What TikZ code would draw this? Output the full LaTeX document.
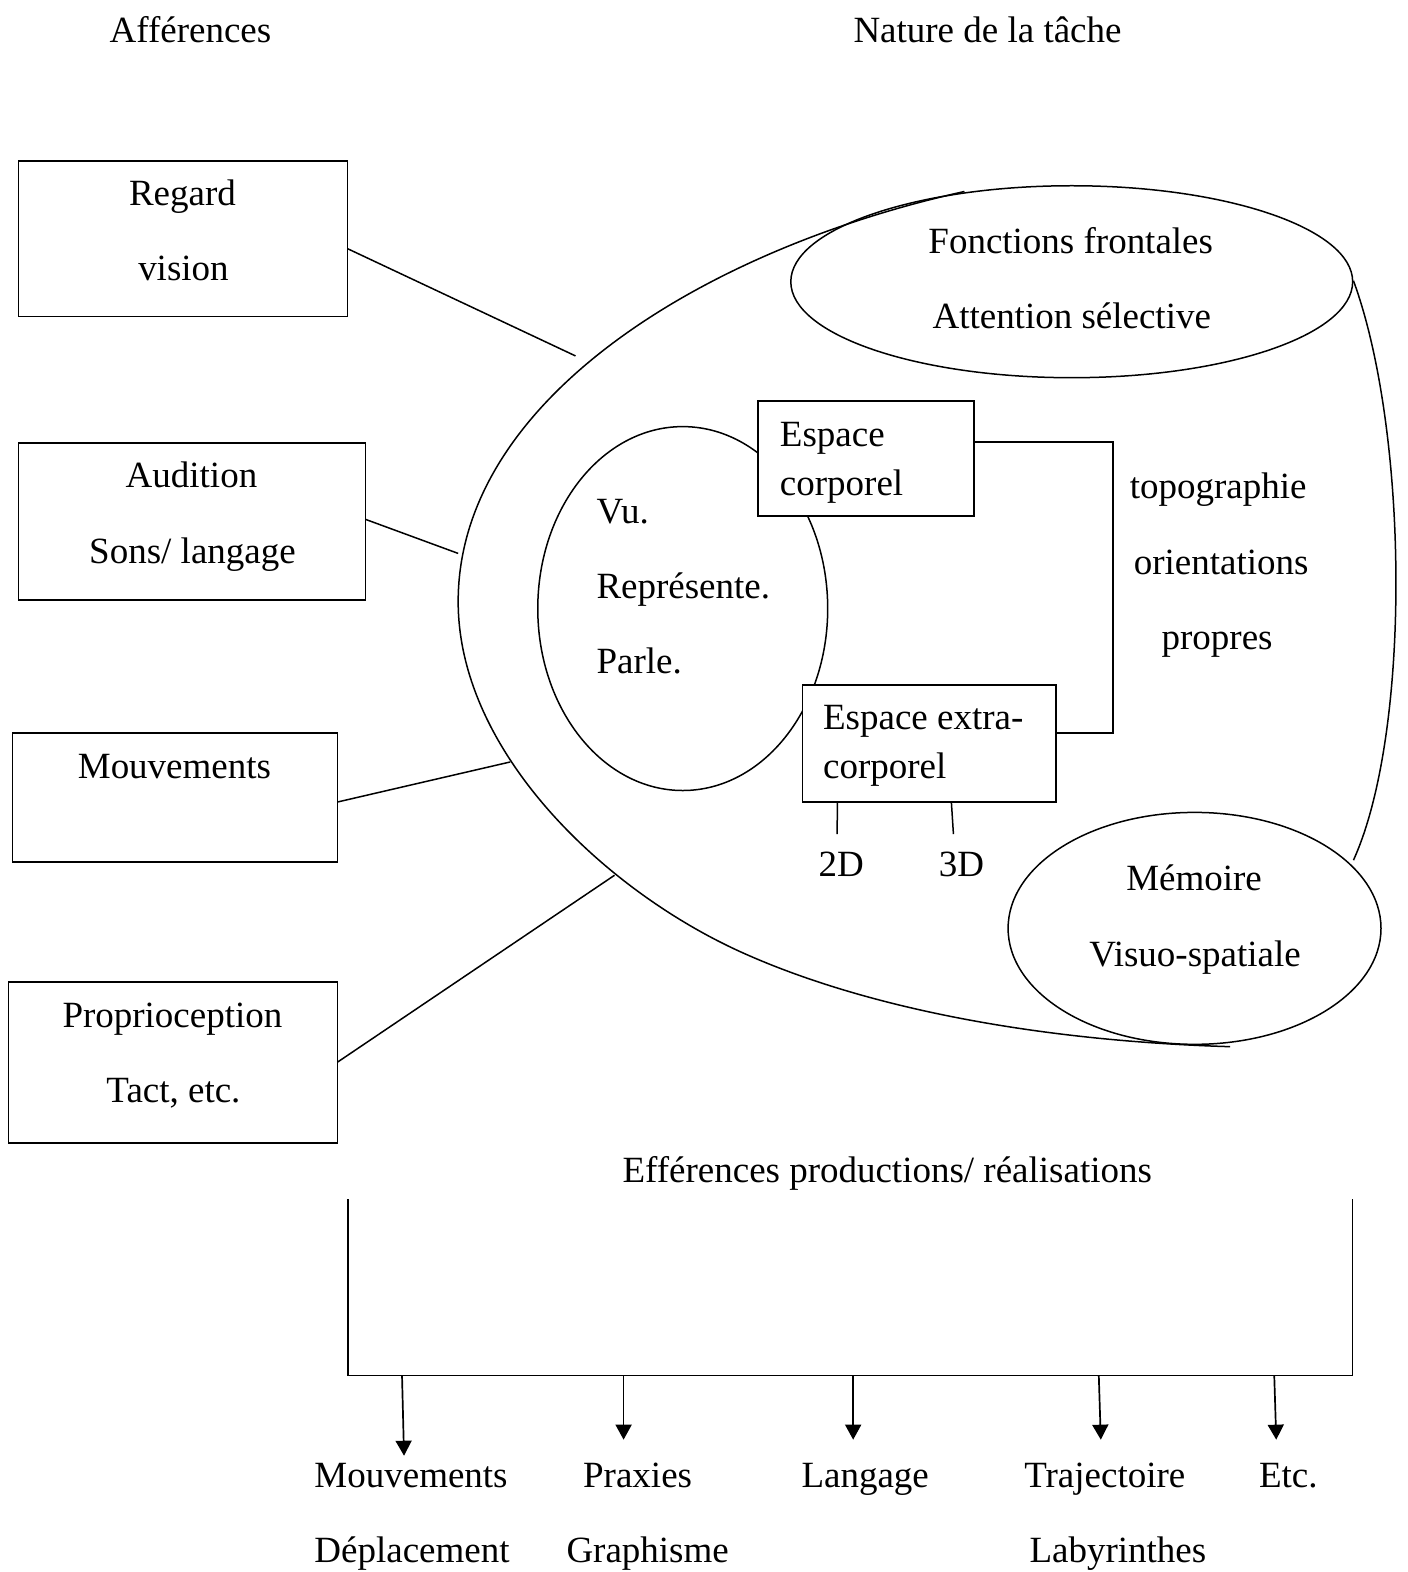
\documentclass[tikz,border=0pt]{standalone}
\usepackage{fontspec}
\setmainfont{Liberation Serif}
\usetikzlibrary{arrows.meta,shapes.geometric}
\begin{document}
\begin{tikzpicture}[x=1.0028pt,y=-1.0028pt,
  every node/.style={inner sep=0pt, outer sep=0pt},
  txt/.style={anchor=base, font=\fontsize{37}{44}\selectfont},
  txtl/.style={anchor=base west, font=\fontsize{37}{44}\selectfont},
  box/.style={draw, rectangle, fill=white, line width=1.8pt},
  oval/.style={draw, ellipse, line width=1.5pt},
  link/.style={line width=1.5pt},
  arr/.style={line width=1.7pt, -{Triangle[length=15pt,width=16pt]}}]

\path[use as bounding box] (0,0) rectangle (1404,1568);

% headings
\node[txt] (aff) at (190,42) {Afférences};
\node[txt] (nat) at (985,42) {Nature de la tâche};

% outer envelope of the task
\coordinate (envTop) at (962,191);
\coordinate (envLeft) at (457,600);
\coordinate (envLow) at (740,950);
\coordinate (envEnd) at (1227,1044);
\draw[link] (envTop) .. controls (700,249) and (457,400) .. (envLeft)
  .. controls (457,750) and (603.5,888.5) .. (envLow)
  .. controls (858.3,1003.3) and (1027,1038) .. (envEnd);

% right-hand arc joining the two ovals
\coordinate (arcTop) at (1350,280);
\coordinate (arcBot) at (1350,858);
\draw[link] (arcTop) .. controls (1405,430) and (1408,730) .. (arcBot);

% ovals
\node[oval, minimum width=562pt, minimum height=192pt] (front) at (1069,281) {};
\node[txt] (front1) at (1068,253) {Fonctions frontales};
\node[txt] (front2) at (1069,328) {Attention sélective};

\node[oval, minimum width=373pt, minimum height=232pt] (mem) at (1191.5,926) {};
\node[txt] (mem1) at (1191,888) {Mémoire};
\node[txt] (mem2) at (1192,964) {Visuo-spatiale};

\node[oval, minimum width=290pt, minimum height=364pt] (vu) at (681,607) {};
\node[txtl] (vu1) at (595,522) {Vu.};
\node[txtl] (vu2) at (595,597) {Représente.};
\node[txtl] (vu3) at (595,672) {Parle.};

% space boxes
\node[box, minimum width=216pt, minimum height=115pt] (corp) at (864,457.5) {};
\node[txtl] (corp1) at (778,445) {Espace};
\node[txtl] (corp2) at (778,494) {corporel};

\node[box, minimum width=254pt, minimum height=117pt] (extra) at (927,741.5) {};
\node[txtl] (extra1) at (821,728) {Espace extra-};
\node[txtl] (extra2) at (821,777) {corporel};

\coordinate (brk) at (1110,600);
\draw[link] ([yshift=16.5pt]corp.east) -| (brk) |- ([yshift=10.5pt]extra.east);

\node[txt] (topo1) at (1215,497) {topographie};
\node[txt] (topo2) at (1218,573) {orientations};
\node[txt] (topo3) at (1214,648) {propres};

% 2D / 3D
\node[txt] (d2) at (839,874) {2D};
\node[txt] (d3) at (959,874) {3D};
\coordinate (d2top) at (835,832);
\coordinate (d3top) at (951,832);
\draw[link] ([xshift=-92pt]extra.south) -- (d2top);
\draw[link] ([xshift=22pt]extra.south) -- (d3top);

% afferent boxes
\node[box, minimum width=329pt, minimum height=156pt] (regard) at (182.5,238) {};
\node[txt] (regard1) at (182,205) {Regard};
\node[txt] (regard2) at (183,280) {vision};

\node[box, minimum width=347pt, minimum height=157pt] (audi) at (191.5,520.5) {};
\node[txt] (audi1) at (191,486) {Audition};
\node[txt] (audi2) at (192,562) {Sons/ langage};

\node[box, minimum width=325pt, minimum height=129pt] (mouv) at (174.5,795.5) {};
\node[txt] (mouv1) at (174,777) {Mouvements};

\node[box, minimum width=329pt, minimum height=161pt] (prop) at (172.5,1059.5) {};
\node[txt] (prop1) at (172,1025) {Proprioception};
\node[txt] (prop2) at (173,1100) {Tact, etc.};

% afferent links ending on the envelope
\coordinate (eRegard) at (574,355);
\coordinate (eAudi) at (457,552);
\coordinate (eMouv) at (509,760);
\coordinate (eProp) at (613,873);
\draw[link] ([yshift=-10pt]regard.east) -- (eRegard);
\draw[link] ([yshift=2.5pt]audi.east) -- (eAudi);
\draw[link] ([yshift=-4.5pt]mouv.east) -- (eMouv);
\draw[link] (prop.east) -- (eProp);

% efferent outputs
\node[txt] (eff) at (885,1179) {Efférences productions/ réalisations};
\coordinate (bTL) at (347,1196);
\coordinate (bTR) at (1349,1196);
\coordinate (bBL) at (347,1372);
\coordinate (bBR) at (1349,1372);
\draw[link] (bTL) -- (bBL) -- (bBR) -- (bTR);

\node[txt] (o1a) at (410,1484) {Mouvements};
\node[txt] (o1b) at (411,1559) {Déplacement};
\node[txt] (o2a) at (636,1484) {Praxies};
\node[txt] (o2b) at (646,1559) {Graphisme};
\node[txt] (o3a) at (863,1484) {Langage};
\node[txt] (o4a) at (1102,1484) {Trajectoire};
\node[txt] (o4b) at (1115,1559) {Labyrinthes};
\node[txt] (o5a) at (1285,1484) {Etc.};

\coordinate (s1) at (401,1372);  \coordinate (t1) at (403,1452);
\coordinate (s2) at (622,1372);  \coordinate (t2) at (622,1436);
\coordinate (s3) at (851,1372);  \coordinate (t3) at (851,1436);
\coordinate (s4) at (1096,1372); \coordinate (t4) at (1098,1436);
\coordinate (s5) at (1271,1372); \coordinate (t5) at (1273,1436);
\foreach \i in {1,...,5} {\draw[arr] (s\i) -- (t\i);}

\end{tikzpicture}
\end{document}
